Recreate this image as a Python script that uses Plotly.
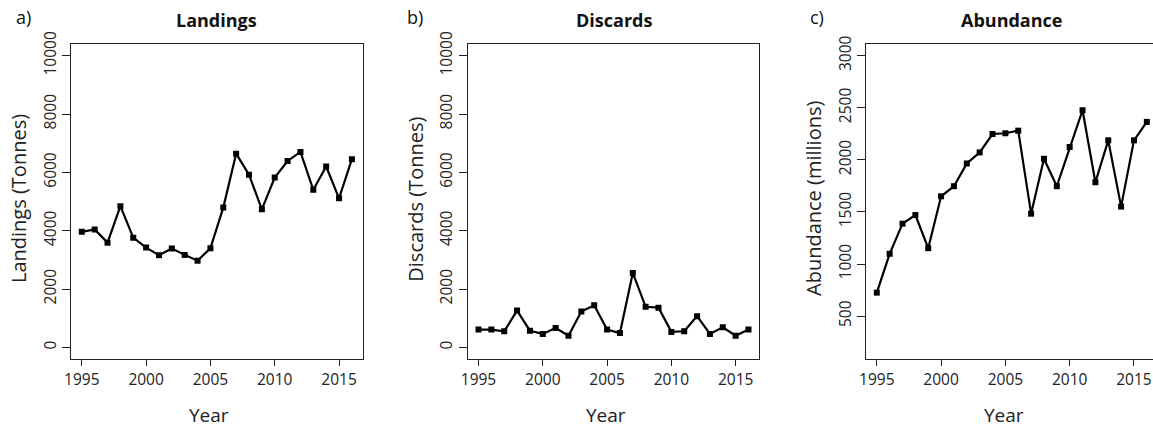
import plotly.graph_objects as go

# Survey years and the three annual series
years = list(range(1995, 2017))
landings = [3960, 4040, 3590, 4840, 3760, 3420, 3160, 3390, 3170, 2970, 3400,
            4790, 6640, 5920, 4730, 5820, 6390, 6700, 5400, 6200, 5110, 6450]
discards = [610, 610, 550, 1260, 570, 460, 660, 400, 1230, 1440, 610,
            490, 2550, 1390, 1360, 530, 550, 1070, 460, 690, 400, 610]
abundance = [725, 1098, 1387, 1470, 1152, 1650, 1747, 1965, 2071, 2248, 2255,
             2280, 1483, 2010, 1747, 2123, 2476, 1785, 2187, 1551, 2187, 2364]

x_ticks = [1995, 2000, 2005, 2010, 2015]
tonne_ticks = [0, 2000, 4000, 6000, 8000, 10000]
abund_ticks = [500, 1000, 1500, 2000, 2500, 3000]

W, H = 1153, 428
FONT = "Open Sans"


def px(x):
    return x / W


def py(y):
    return 1 - y / H


panels = [
    # (label, title, y title, values, y ticks, y range, left px, right px, x range, label x)
    ("a)", "Landings", "Landings (Tonnes)", landings, tonne_ticks, [-400, 10400],
     71, 362.7, [1994.16, 2016.84], 23),
    ("b)", "Discards", "Discards (Tonnes)", discards, tonne_ticks, [-400, 10400],
     467.7, 759.3, [1994.16, 2016.84], 415),
    ("c)", "Abundance", "Abundance (millions)", abundance, abund_ticks, [88, 3112],
     866, 1153, [1994.16, 2016.48], 817),
]

TOP, BOTTOM = 44, 359

fig = go.Figure()
annotations = []
layout_axes = {}


def label(x, y, text, size, color="#222", angle=0):
    annotations.append(dict(
        x=px(x), y=py(y), xref="paper", yref="paper", text=text,
        showarrow=False, xanchor="center", yanchor="middle", textangle=angle,
        font=dict(family=FONT, size=size, color=color)))


for i, (lab, title, ytitle, vals, yt, yr, left, right, xr, labx) in enumerate(panels):
    n = "" if i == 0 else str(i + 1)
    fig.add_trace(go.Scatter(
        x=years, y=vals, mode="lines+markers",
        line=dict(color="black", width=2.2),
        marker=dict(symbol="square", size=6, color="black"),
        xaxis="x" + n, yaxis="y" + n, showlegend=False,
    ))
    last = i == 2
    layout_axes["xaxis" + n] = dict(
        domain=[px(left), min(px(right), 1.0)], range=xr, anchor="y" + n,
        tickvals=x_ticks, ticktext=[str(v) for v in x_ticks],
        ticks="outside", ticklen=6, tickwidth=1, tickcolor="#222",
        showline=True, linecolor="#222", linewidth=1.3, mirror=True,
        showgrid=False, zeroline=False, automargin=False,
        tickfont=dict(family=FONT, size=15.5, color="#222"),
    )
    layout_axes["yaxis" + n] = dict(
        domain=[py(BOTTOM), py(TOP)], range=yr, anchor="x" + n,
        tickvals=yt, ticktext=[str(v) for v in yt],
        ticks="outside", ticklen=8, tickwidth=1, tickcolor="#222",
        tickangle=-90,
        showline=True, linecolor="#222", linewidth=1.3, mirror=not last,
        showgrid=False, zeroline=False, automargin=False,
        tickfont=dict(family=FONT, size=15.5, color="#222"),
    )
    cx = left + 291.7 / 2
    label(labx, 17, lab, 18, "#111")                       # panel letter
    label(cx, 20, "<b>" + title + "</b>", 18, "#111")      # bold panel title
    label(cx - 8, 415, "Year", 19)                         # x axis title
    label(left - 53, 199, ytitle, 20, angle=-90)           # y axis title

fig.update_layout(
    width=W, height=H,
    margin=dict(l=0, r=0, t=0, b=0),
    paper_bgcolor="white", plot_bgcolor="white",
    annotations=annotations,
    **layout_axes,
)

fig.write_html("out.html")
